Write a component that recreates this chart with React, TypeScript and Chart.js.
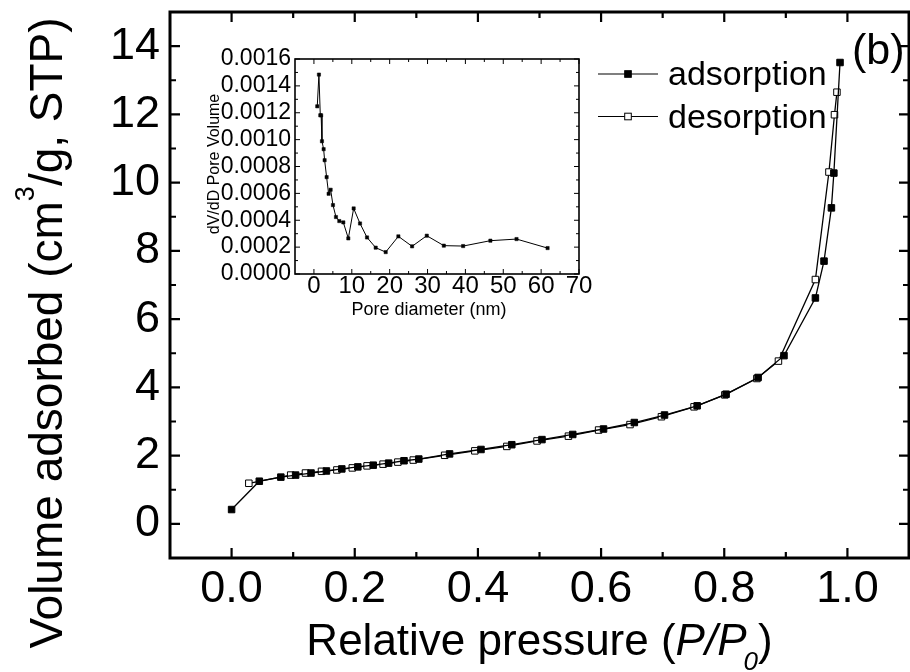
import React, { useEffect, useRef } from 'react';
import { Chart, registerables } from 'chart.js';

Chart.register(...registerables);

const FONT = "'Liberation Sans', Arial, Helvetica, sans-serif";

// ---------- main isotherm data ----------
const adsorptionX = [0, 0.045, 0.08, 0.104, 0.129, 0.154, 0.179, 0.205, 0.23, 0.255, 0.28, 0.304, 0.354, 0.405, 0.455, 0.504, 0.554, 0.604, 0.654, 0.703, 0.756, 0.803, 0.855, 0.897, 0.948, 0.962, 0.974, 0.978, 0.988];
const adsorptionY = [0.42, 1.25, 1.37, 1.43, 1.49, 1.55, 1.61, 1.67, 1.72, 1.78, 1.85, 1.9, 2.05, 2.18, 2.32, 2.47, 2.62, 2.78, 2.97, 3.19, 3.46, 3.8, 4.29, 4.93, 6.62, 7.7, 9.26, 10.28, 13.52];
const desorptionX = [0.983, 0.979, 0.97, 0.948, 0.888, 0.853, 0.801, 0.751, 0.698, 0.647, 0.596, 0.547, 0.496, 0.447, 0.395, 0.346, 0.295, 0.27, 0.246, 0.22, 0.196, 0.171, 0.146, 0.12, 0.096, 0.028];
const desorptionY = [12.65, 11.99, 10.31, 7.16, 4.77, 4.26, 3.78, 3.43, 3.14, 2.91, 2.75, 2.57, 2.43, 2.27, 2.14, 2.01, 1.87, 1.81, 1.75, 1.7, 1.64, 1.58, 1.54, 1.49, 1.43, 1.19];

const xMajorTicks = [0, 0.2, 0.4, 0.6, 0.8, 1.0];
const xMinorTicks = [0.1, 0.3, 0.5, 0.7, 0.9];
const yMajorTicks = [0, 2, 4, 6, 8, 10, 12, 14];
const yMinorTicks = [1, 3, 5, 7, 9, 11, 13];

// ---------- inset pore size distribution data ----------
const poreDiameter = [0.88, 1.32, 1.68, 1.9, 2.12, 2.56, 2.82, 3.35, 3.88, 4.41, 5.03, 5.82, 6.7, 7.76, 9.08, 10.49, 12.17, 14.02, 16.31, 18.95, 22.3, 25.92, 29.8, 34.3, 39.4, 46.6, 53.5, 61.7];
const poreVolume = [0.001248, 0.001484, 0.001181, 0.001181, 0.000988, 0.000929, 0.000847, 0.000721, 0.000597, 0.000627, 0.000513, 0.000424, 0.000394, 0.000384, 0.000265, 0.000488, 0.000376, 0.000272, 0.000196, 0.000163, 0.00028, 0.000206, 0.000285, 0.000211, 0.000208, 0.000248, 0.00026, 0.000193];

const insetXMajor = [0, 10, 20, 30, 40, 50, 60, 70];
const insetXMinor = [5, 15, 25, 35, 45, 55, 65];
const insetYMajor = [0, 0.0002, 0.0004, 0.0006, 0.0008, 0.001, 0.0012, 0.0014, 0.0016];
const insetYMinor = [0.0001, 0.0003, 0.0005, 0.0007, 0.0009, 0.0011, 0.0013, 0.0015];

const seriesNames = ['adsorption', 'desorption'];

Chart.defaults.font.family = FONT;
Chart.defaults.color = '#000';

function framePlugin(o: any) {
  return {
    id: 'frame-' + o.name,
    afterDatasetsDraw(chart: any) {
      const { ctx, chartArea: a, scales } = chart;
      const xs = scales.x, ys = scales.y;
      ctx.save();
      ctx.strokeStyle = '#000';
      ctx.lineWidth = o.tickWidth;
      const xt = (vals: number[], len: number) => {
        vals.forEach((v) => {
          const p = xs.getPixelForValue(v);
          ctx.beginPath();
          ctx.moveTo(p, a.bottom); ctx.lineTo(p, a.bottom - len);
          ctx.moveTo(p, a.top); ctx.lineTo(p, a.top + len);
          ctx.stroke();
        });
      };
      const yt = (vals: number[], len: number) => {
        vals.forEach((v) => {
          const p = ys.getPixelForValue(v);
          ctx.beginPath();
          ctx.moveTo(a.left, p); ctx.lineTo(a.left + len, p);
          ctx.moveTo(a.right, p); ctx.lineTo(a.right - len, p);
          ctx.stroke();
        });
      };
      xt(o.xMajor, o.major); xt(o.xMinor, o.minor);
      yt(o.yMajor, o.major); yt(o.yMinor, o.minor);
      ctx.lineWidth = o.borderWidth;
      ctx.strokeRect(a.left, a.top, a.right - a.left, a.bottom - a.top);
      ctx.restore();
    },
  };
}

function segWidth(ctx: CanvasRenderingContext2D, segs: any[]) {
  let w = 0;
  segs.forEach((s) => { ctx.font = s.font; w += ctx.measureText(s.text).width + (s.after || 0); });
  return w;
}
function drawSegs(ctx: CanvasRenderingContext2D, segs: any[], x: number, y: number) {
  let cx = x;
  segs.forEach((s) => {
    ctx.font = s.font;
    ctx.fillText(s.text, cx, y + (s.dy || 0));
    cx += ctx.measureText(s.text).width + (s.after || 0);
  });
}

const mainTextPlugin = {
  id: 'mainText',
  afterDraw(chart: any) {
    const { ctx, chartArea: a } = chart;
    ctx.save();
    ctx.fillStyle = '#000';
    ctx.textBaseline = 'alphabetic';
    ctx.textAlign = 'left';
    // x-axis title
    const xs = [
      { text: 'Relative pressure (', font: `44px ${FONT}` },
      { text: 'P/P', font: `italic 44px ${FONT}`, after: -3 },
      { text: '0', font: `italic 26px ${FONT}`, dy: 15 },
      { text: ')', font: `44px ${FONT}` },
    ];
    const xw = segWidth(ctx, xs);
    drawSegs(ctx, xs, (a.left + a.right) / 2 - xw / 2, 655);
    // y-axis title
    const ysg = [
      { text: 'Volume adsorbed (cm', font: `46px ${FONT}` },
      { text: '3', font: `27px ${FONT}`, dy: -28 },
      { text: '/g, STP)', font: `46px ${FONT}` },
    ];
    const yw = segWidth(ctx, ysg);
    ctx.save();
    ctx.translate(62, 333);
    ctx.rotate(-Math.PI / 2);
    drawSegs(ctx, ysg, -yw / 2, 0);
    ctx.restore();
    // legend
    const ds = chart.data.datasets;
    [0, 1].forEach((i) => {
      const d = ds[i];
      const ly = 74 + i * 42.5;
      ctx.strokeStyle = '#000';
      ctx.lineWidth = 1.2;
      ctx.beginPath(); ctx.moveTo(598, ly); ctx.lineTo(658, ly); ctx.stroke();
      const s = 6.6;
      ctx.fillStyle = d.pointBackgroundColor;
      ctx.fillRect(628 - s / 2, ly - s / 2, s, s);
      ctx.lineWidth = 1;
      ctx.strokeRect(628 - s / 2, ly - s / 2, s, s);
      ctx.fillStyle = '#000';
      ctx.font = `34px ${FONT}`;
      ctx.fillText(seriesNames[i], 668, ly + 11);
    });
    ctx.font = `43px ${FONT}`;
    ctx.fillText('(b)', 852, 64);
    ctx.restore();
  },
};

const insetTextPlugin = {
  id: 'insetText',
  afterDraw(chart: any) {
    const { ctx } = chart;
    ctx.save();
    ctx.fillStyle = '#000';
    ctx.textBaseline = 'alphabetic';
    ctx.textAlign = 'center';
    ctx.font = `18px ${FONT}`;
    ctx.fillText('Pore diameter (nm)', 239, 275);
    ctx.translate(29, 124);
    ctx.rotate(-Math.PI / 2);
    ctx.font = `16px ${FONT}`;
    ctx.fillText('dV/dD Pore Volume', 0, 0);
    ctx.restore();
  },
};

export default function App() {
  const mainRef = useRef<HTMLCanvasElement>(null);
  const insetRef = useRef<HTMLCanvasElement>(null);

  useEffect(() => {
    const squares = (xsArr: number[], ysArr: number[]) => xsArr.map((x, i) => ({ x, y: ysArr[i] }));
    const main = new Chart(mainRef.current as HTMLCanvasElement, {
      type: 'scatter',
      data: {
        datasets: [
          {
            label: seriesNames[0],
            data: squares(adsorptionX, adsorptionY),
            showLine: true,
            borderColor: '#000',
            borderWidth: 1.3,
            pointStyle: 'rect',
            pointRadius: 4.6,
            pointBackgroundColor: '#000',
            pointBorderColor: '#000',
            pointBorderWidth: 1,
          },
          {
            label: seriesNames[1],
            data: squares(desorptionX, desorptionY),
            showLine: true,
            borderColor: '#000',
            borderWidth: 1.3,
            pointStyle: 'rect',
            pointRadius: 4.6,
            pointBackgroundColor: '#fff',
            pointBorderColor: '#000',
            pointBorderWidth: 1,
          },
        ],
      } as any,
      options: {
        responsive: false,
        animation: false,
        devicePixelRatio: 1,
        events: [],
        layout: { autoPadding: false, padding: { top: 12, right: 1, left: 0, bottom: 0 } },
        plugins: { legend: { display: false }, tooltip: { enabled: false } },
        scales: {
          x: {
            type: 'linear',
            min: -0.1,
            max: 1.1,
            afterBuildTicks: (s: any) => { s.ticks = xMajorTicks.map((v) => ({ value: v })); },
            afterFit: (s: any) => { s.height = 114; s.paddingLeft = 0; s.paddingRight = 0; },
            grid: { display: false, drawTicks: false },
            border: { display: false },
            ticks: {
              padding: 5,
              autoSkip: false,
              maxRotation: 0,
              color: '#000',
              font: { size: 45, family: FONT },
              callback: (v: any) => Number(v).toFixed(1),
            },
          },
          y: {
            type: 'linear',
            min: -1,
            max: 15,
            afterBuildTicks: (s: any) => { s.ticks = yMajorTicks.map((v) => ({ value: v })); },
            afterFit: (s: any) => { s.width = 170; s.paddingTop = 0; s.paddingBottom = 0; },
            grid: { display: false, drawTicks: false },
            border: { display: false },
            ticks: {
              padding: 10,
              autoSkip: false,
              color: '#000',
              font: { size: 45, family: FONT },
              callback: (v: any) => String(Math.round(Number(v))),
            },
          },
        },
      } as any,
      plugins: [
        framePlugin({ name: 'main', xMajor: xMajorTicks, xMinor: xMinorTicks, yMajor: yMajorTicks, yMinor: yMinorTicks, major: 10, minor: 6, tickWidth: 2.2, borderWidth: 3 }),
        mainTextPlugin,
      ],
    });

    const inset = new Chart(insetRef.current as HTMLCanvasElement, {
      type: 'scatter',
      data: {
        datasets: [
          {
            label: 'dV/dD',
            data: squares(poreDiameter, poreVolume),
            showLine: true,
            borderColor: '#000',
            borderWidth: 1,
            pointStyle: 'rect',
            pointRadius: 2.3,
            pointBackgroundColor: '#000',
            pointBorderColor: '#000',
            pointBorderWidth: 0.5,
          },
        ],
      } as any,
      options: {
        responsive: false,
        animation: false,
        devicePixelRatio: 1,
        events: [],
        layout: { autoPadding: false, padding: { top: 19, right: 21, left: 0, bottom: 0 } },
        plugins: { legend: { display: false }, tooltip: { enabled: false } },
        scales: {
          x: {
            type: 'linear',
            min: -5,
            max: 70,
            afterBuildTicks: (s: any) => { s.ticks = insetXMajor.map((v) => ({ value: v })); },
            afterFit: (s: any) => { s.height = 56; s.paddingLeft = 0; s.paddingRight = 0; },
            grid: { display: false, drawTicks: false },
            border: { display: false },
            ticks: {
              padding: 0,
              autoSkip: false,
              maxRotation: 0,
              color: '#000',
              font: { size: 24, family: FONT, lineHeight: 1 },
              callback: (v: any) => String(Math.round(Number(v))),
            },
          },
          y: {
            type: 'linear',
            min: 0,
            max: 0.0016,
            afterBuildTicks: (s: any) => { s.ticks = insetYMajor.map((v) => ({ value: v })); },
            afterFit: (s: any) => { s.width = 105; s.paddingTop = 0; s.paddingBottom = 0; },
            grid: { display: false, drawTicks: false },
            border: { display: false },
            ticks: {
              padding: 4,
              autoSkip: false,
              color: '#000',
              font: { size: 23, family: FONT },
              callback: (v: any) => Number(v).toFixed(4),
            },
          },
        },
      } as any,
      plugins: [
        framePlugin({ name: 'inset', xMajor: insetXMajor, xMinor: insetXMinor, yMajor: insetYMajor, yMinor: insetYMinor, major: 5, minor: 3, tickWidth: 1, borderWidth: 1.6 }),
        insetTextPlugin,
      ],
    });

    return () => {
      main.destroy();
      inset.destroy();
    };
  }, []);

  return (
    <div style={{ position: 'absolute', left: 0, top: 0, width: 910, height: 672, background: '#fff' }}>
      <canvas ref={mainRef} width={910} height={672} style={{ position: 'absolute', left: 0, top: 0, width: 910, height: 672 }} />
      <canvas ref={insetRef} width={410} height={290} style={{ position: 'absolute', left: 190, top: 40, width: 410, height: 290 }} />
    </div>
  );
}
